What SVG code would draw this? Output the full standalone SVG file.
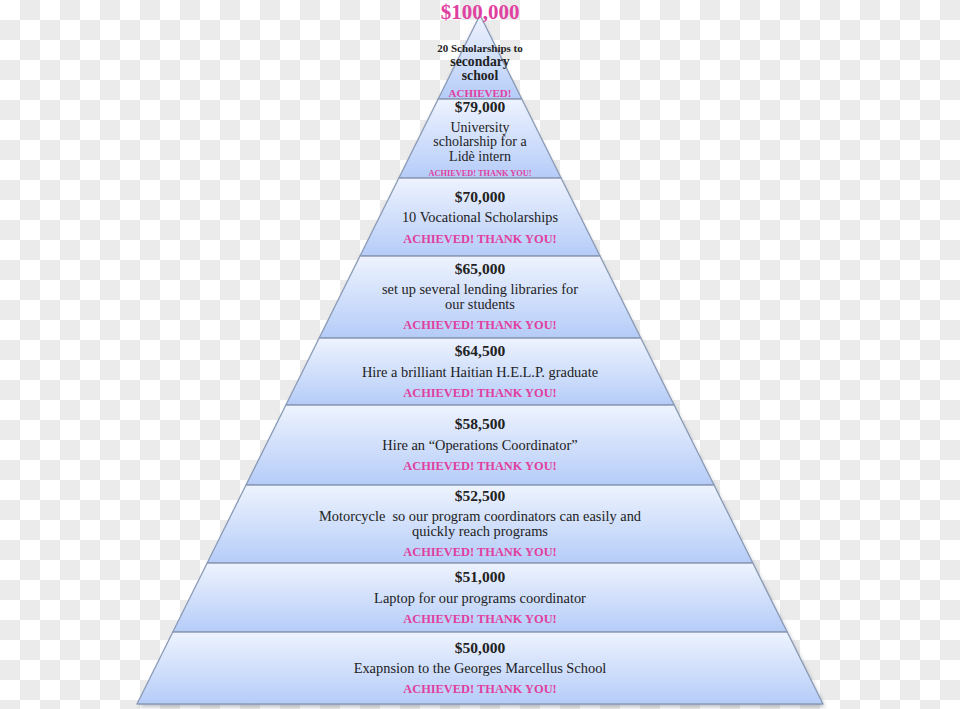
<svg xmlns="http://www.w3.org/2000/svg" width="960" height="709" viewBox="0 0 960 709">
<defs>
<pattern id="chk" x="0" y="0" width="40" height="40" patternUnits="userSpaceOnUse">
<rect width="40" height="40" fill="#ffffff"/>
<rect x="20" y="0" width="20" height="20" fill="#ebebeb"/>
<rect x="0" y="20" width="20" height="20" fill="#ebebeb"/>
</pattern>
<linearGradient id="band" x1="0" y1="0" x2="0" y2="1">
<stop offset="0" stop-color="#eef3fe"/>
<stop offset="1" stop-color="#b5ccf8"/>
</linearGradient>
<filter id="sh" x="-10%" y="-10%" width="120%" height="120%">
<feGaussianBlur stdDeviation="2"/>
</filter>
<style>
.b{fill:url(#band);stroke:#8a9ab6;stroke-width:1.3;stroke-linejoin:round}
.t{font-family:"Liberation Serif","DejaVu Serif",serif;fill:#222;text-anchor:middle;font-size:14.4px}
.w{font-size:14px}
.h{font-weight:bold;font-size:15.5px}
.p{font-weight:bold;fill:#e0409f;font-size:12.4px}
</style>
</defs>
<rect width="960" height="709" fill="url(#chk)"/>
<polygon points="480,18 825,707 139,707" fill="#6a7280" opacity="0.45" filter="url(#sh)"/>

<g id="band0">
<polygon class="b" points="480,15 521.8,99 438.2,99"/>
<text class="t h" x="480" y="19" style="fill:#e0409f;font-size:21px">$100,000</text>
<text class="t h" x="480" y="52" style="font-size:11px">20 Scholarships to</text>
<text class="t h" x="480" y="66" style="font-size:13.7px">secondary</text>
<text class="t h" x="480" y="80" style="font-size:13.7px">school</text>
<text class="t p" x="480" y="97" style="font-size:11px">ACHIEVED!</text>
</g>

<g id="band1">
<polygon class="b" points="438.2,99 521.8,99 561.1,178 398.9,178"/>
<text class="t h" x="480" y="112">$79,000</text>
<text class="t w" x="480" y="131.5">University</text>
<text class="t w" x="480" y="146">scholarship for a</text>
<text class="t w" x="480" y="160.5">Lidè intern</text>
<text class="t p" x="480" y="176" style="font-size:8.3px">ACHIEVED! THANK YOU!</text>
</g>

<g id="band2">
<polygon class="b" points="398.9,178 561.1,178 600,256 360,256"/>
<text class="t h" x="480" y="202">$70,000</text>
<text class="t" x="480" y="222">10 Vocational Scholarships</text>
<text class="t p" x="480" y="243">ACHIEVED! THANK YOU!</text>
</g>

<g id="band3">
<polygon class="b" points="360,256 600,256 640.8,338 319.2,338"/>
<text class="t h" x="480" y="274">$65,000</text>
<text class="t" x="480" y="294">set up several lending libraries for</text>
<text class="t" x="480" y="308.5">our students</text>
<text class="t p" x="480" y="329">ACHIEVED! THANK YOU!</text>
</g>

<g id="band4">
<polygon class="b" points="319.2,338 640.8,338 674.1,405 285.9,405"/>
<text class="t h" x="480" y="356">$64,500</text>
<text class="t" x="480" y="377">Hire a brilliant Haitian H.E.L.P. graduate</text>
<text class="t p" x="480" y="397">ACHIEVED! THANK YOU!</text>
</g>

<g id="band5">
<polygon class="b" points="285.9,405 674.1,405 714,485 246,485"/>
<text class="t h" x="480" y="429">$58,500</text>
<text class="t" x="480" y="450">Hire an “Operations Coordinator”</text>
<text class="t p" x="480" y="470">ACHIEVED! THANK YOU!</text>
</g>

<g id="band6">
<polygon class="b" points="246,485 714,485 752.8,563 207.2,563"/>
<text class="t h" x="480" y="501">$52,500</text>
<text class="t" x="480" y="521" xml:space="preserve">Motorcycle  so our program coordinators can easily and</text>
<text class="t" x="480" y="535.5">quickly reach programs</text>
<text class="t p" x="480" y="556">ACHIEVED! THANK YOU!</text>
</g>

<g id="band7">
<polygon class="b" points="207.2,563 752.8,563 787.2,632 172.8,632"/>
<text class="t h" x="480" y="582">$51,000</text>
<text class="t" x="480" y="603">Laptop for our programs coordinator</text>
<text class="t p" x="480" y="623">ACHIEVED! THANK YOU!</text>
</g>

<g id="band8">
<polygon class="b" points="172.8,632 787.2,632 823,704 137,704"/>
<text class="t h" x="480" y="653">$50,000</text>
<text class="t" x="480" y="673">Exapnsion to the Georges Marcellus School</text>
<text class="t p" x="480" y="693">ACHIEVED! THANK YOU!</text>
</g>

<g id="connectors"/>
</svg>
